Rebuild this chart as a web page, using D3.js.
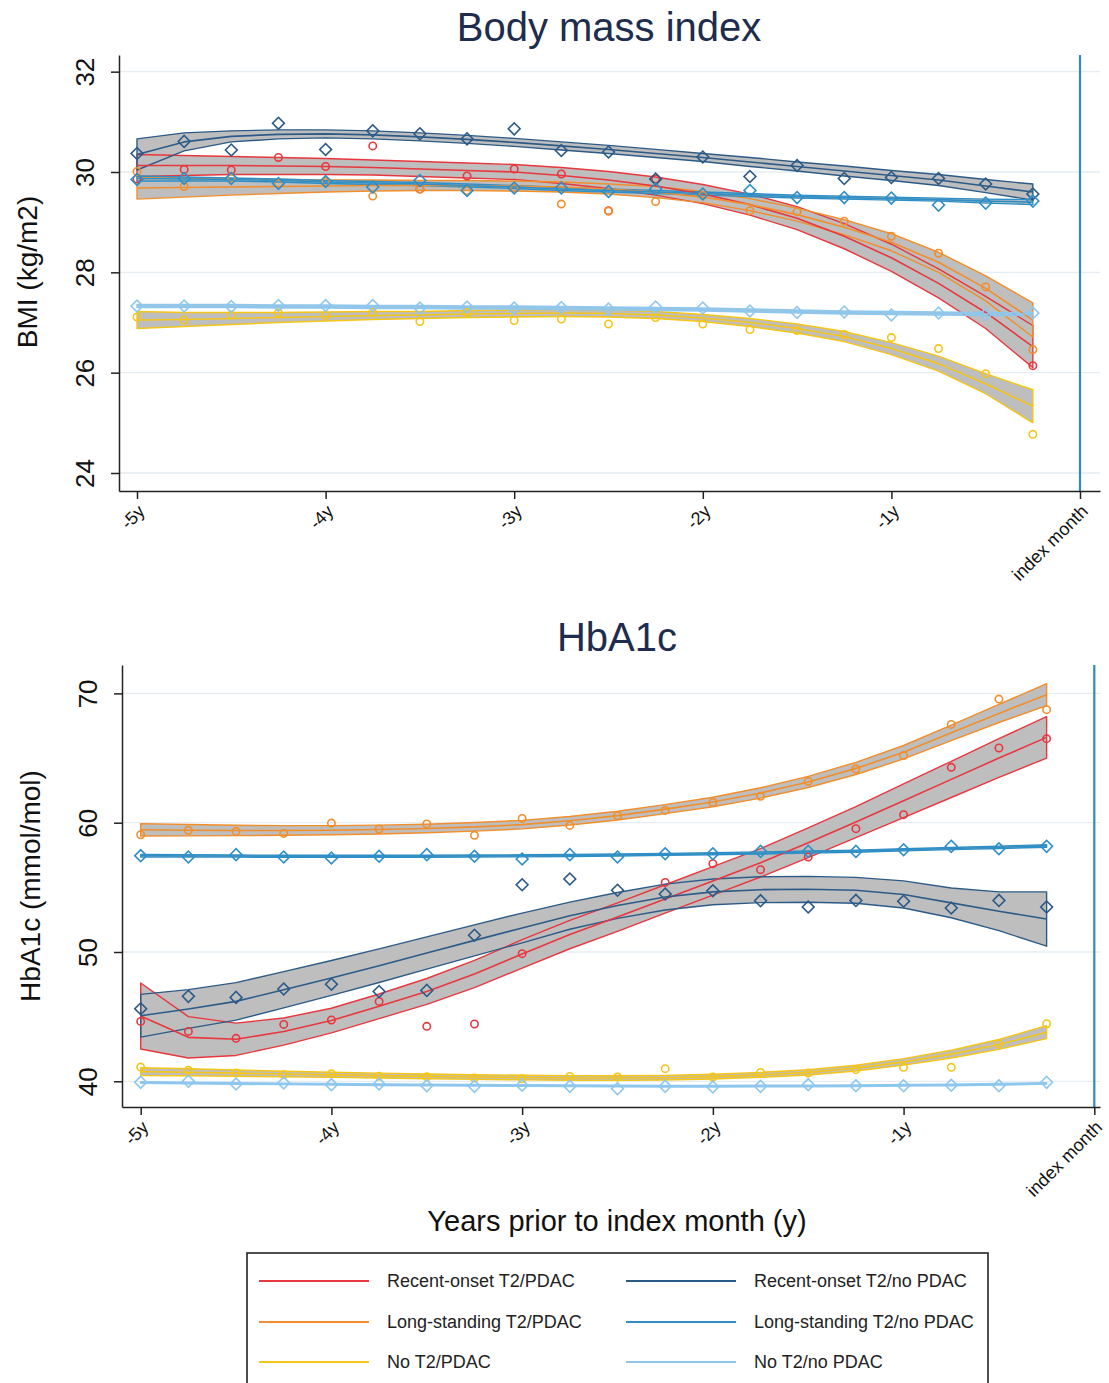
<!DOCTYPE html>
<html>
<head>
<meta charset="utf-8">
<script src="https://cdn.jsdelivr.net/npm/d3@7"></script>
<style>
  body { margin: 0; background: #fff; }
  svg { display: block; }
  text { font-family: "Liberation Sans", Arial, sans-serif; }
</style>
</head>
<body>
<svg id="chart" width="1109" height="1383"></svg>
<script>
// ---- data -------------------------------------------------------------
// Quarterly time points (years before the index month)
const years = [-5, -4.75, -4.5, -4.25, -4, -3.75, -3.5, -3.25, -3, -2.75,
               -2.5, -2.25, -2, -1.75, -1.5, -1.25, -1, -0.75, -0.5, -0.25];

// Groups, in legend order
const groups = [
  "Recent-onset T2/PDAC", "Recent-onset T2/no PDAC",
  "Long-standing T2/PDAC", "Long-standing T2/no PDAC",
  "No T2/PDAC", "No T2/no PDAC"
];

// BMI: observed quarterly means per group (null = no mean shown)
const bmiObserved = [
  [29.86, 30.05, 30.04, 30.29, 30.11, 30.52, 29.66, 29.92, 30.06, 29.96, 29.23, 29.86, null, null, null, null, null, null, null, 26.14],
  [30.37, 30.61, 30.44, 30.97, 30.45, 30.82, 30.76, 30.66, 30.86, 30.43, 30.40, 29.86, 30.30, 29.91, 30.13, 29.87, 29.89, 29.87, 29.76, 29.56],
  [30.01, 29.71, 29.87, 29.77, 29.81, 29.52, 29.66, 29.63, 29.68, 29.36, 29.22, 29.41, 29.54, 29.23, 29.21, 29.02, 28.72, 28.38, 27.71, 26.46],
  [29.85, 29.87, 29.87, 29.77, 29.81, 29.70, 29.83, 29.63, 29.68, 29.68, 29.61, 29.66, 29.56, 29.63, 29.49, 29.49, 29.48, 29.34, 29.38, 29.42],
  [27.11, 27.05, 27.15, 27.19, 27.14, 27.20, 27.02, 27.20, 27.04, 27.07, 26.97, 27.10, 26.97, 26.86, 26.84, 26.76, 26.70, 26.48, 25.98, 24.77],
  [27.33, 27.33, 27.32, 27.34, 27.34, 27.34, 27.29, 27.31, 27.29, 27.30, 27.27, 27.31, 27.29, 27.23, 27.20, 27.21, 27.15, 27.19, 27.16, 27.19]
];
// BMI: fitted trajectory per group
const bmiFitted = [
  [30.13, 30.13, 30.13, 30.12, 30.11, 30.09, 30.06, 30.03, 30.00, 29.93, 29.84, 29.72, 29.56, 29.35, 29.08, 28.72, 28.29, 27.78, 27.20, 26.52],
  [30.35, 30.60, 30.71, 30.75, 30.76, 30.74, 30.70, 30.65, 30.59, 30.52, 30.45, 30.37, 30.29, 30.20, 30.11, 30.02, 29.93, 29.84, 29.72, 29.60],
  [29.68, 29.69, 29.70, 29.71, 29.72, 29.73, 29.73, 29.73, 29.72, 29.70, 29.66, 29.60, 29.50, 29.35, 29.15, 28.90, 28.60, 28.20, 27.68, 27.05],
  [29.87, 29.86, 29.85, 29.83, 29.80, 29.78, 29.76, 29.73, 29.70, 29.66, 29.63, 29.60, 29.57, 29.54, 29.51, 29.49, 29.47, 29.45, 29.42, 29.40],
  [27.05, 27.06, 27.08, 27.10, 27.12, 27.14, 27.15, 27.17, 27.18, 27.19, 27.18, 27.15, 27.09, 27.00, 26.88, 26.72, 26.48, 26.18, 25.78, 25.33],
  [27.33, 27.33, 27.33, 27.32, 27.32, 27.31, 27.31, 27.30, 27.30, 27.29, 27.28, 27.27, 27.26, 27.24, 27.22, 27.20, 27.19, 27.18, 27.17, 27.17]
];
// BMI: half-width of the 95% confidence band
const bmiHalfWidth = [
  [0.22, 0.20, 0.18, 0.17, 0.16, 0.15, 0.15, 0.15, 0.15, 0.16, 0.17, 0.18, 0.19, 0.21, 0.23, 0.25, 0.27, 0.29, 0.32, 0.42],
  [0.31, 0.18, 0.11, 0.09, 0.08, 0.08, 0.08, 0.08, 0.08, 0.08, 0.08, 0.08, 0.08, 0.09, 0.09, 0.10, 0.10, 0.11, 0.13, 0.16],
  [0.22, 0.19, 0.16, 0.14, 0.12, 0.11, 0.10, 0.10, 0.10, 0.10, 0.10, 0.11, 0.11, 0.12, 0.13, 0.15, 0.17, 0.20, 0.25, 0.34],
  [0.05, 0.04, 0.03, 0.03, 0.03, 0.03, 0.03, 0.03, 0.03, 0.03, 0.03, 0.03, 0.03, 0.03, 0.03, 0.03, 0.03, 0.03, 0.04, 0.05],
  [0.17, 0.14, 0.12, 0.10, 0.09, 0.08, 0.07, 0.07, 0.07, 0.07, 0.07, 0.07, 0.07, 0.08, 0.09, 0.10, 0.12, 0.15, 0.20, 0.33],
  [0.03, 0.03, 0.03, 0.03, 0.03, 0.03, 0.03, 0.03, 0.03, 0.03, 0.03, 0.03, 0.03, 0.03, 0.03, 0.03, 0.03, 0.03, 0.03, 0.03]
];

// HbA1c: observed quarterly means per group (null = no mean shown)
const hbaObserved = [
  [44.63, 43.86, 43.32, 44.40, 44.74, 46.18, 44.25, 44.43, 49.87, null, null, 55.38, 56.83, 56.37, 57.35, 59.54, 60.62, 64.28, 65.78, 66.50],
  [45.61, 46.57, 46.49, 47.14, 47.50, 46.95, 47.03, 51.29, 55.20, 55.64, 54.77, 54.48, 54.74, 53.97, 53.48, 53.99, 53.92, 53.40, 53.99, 53.48],
  [59.07, 59.41, 59.33, 59.17, 59.97, 59.51, 59.90, 59.02, 60.33, 59.79, 60.54, 60.95, 61.57, 62.04, 63.20, 64.15, 65.20, 67.60, 69.56, 68.74],
  [57.45, 57.35, 57.53, 57.35, 57.27, 57.40, 57.53, 57.40, 57.19, 57.53, 57.35, 57.60, 57.60, 57.78, 57.78, 57.78, 57.91, 58.17, 57.99, 58.17],
  [41.10, 40.85, 40.64, 40.51, 40.59, 40.40, 40.35, 40.25, 40.20, 40.38, 40.33, 40.98, 40.33, 40.69, 40.64, 40.90, 41.08, 41.08, 42.89, 44.45],
  [39.92, 40.00, 39.79, 39.87, 39.74, 39.79, 39.66, 39.61, 39.69, 39.61, 39.43, 39.61, 39.56, 39.61, 39.74, 39.66, 39.66, 39.69, 39.66, 39.92]
];
// HbA1c: fitted trajectory per group
const hbaFitted = [
  [45.05, 43.40, 43.25, 43.85, 44.70, 45.80, 46.95, 48.30, 49.85, 51.35, 52.70, 54.10, 55.50, 56.90, 58.45, 60.05, 61.70, 63.35, 65.00, 66.60],
  [45.07, 45.59, 46.18, 47.08, 47.99, 48.94, 49.92, 50.90, 51.86, 52.81, 53.60, 54.25, 54.65, 54.82, 54.85, 54.77, 54.45, 53.80, 53.15, 52.55],
  [59.45, 59.42, 59.40, 59.40, 59.42, 59.47, 59.55, 59.68, 59.85, 60.15, 60.55, 61.05, 61.60, 62.30, 63.15, 64.20, 65.45, 66.95, 68.45, 69.90],
  [57.45, 57.43, 57.42, 57.40, 57.40, 57.40, 57.40, 57.42, 57.44, 57.47, 57.50, 57.55, 57.60, 57.66, 57.73, 57.80, 57.90, 58.00, 58.10, 58.20],
  [40.75, 40.70, 40.63, 40.56, 40.50, 40.44, 40.38, 40.33, 40.29, 40.26, 40.25, 40.28, 40.36, 40.50, 40.69, 41.02, 41.50, 42.10, 42.85, 43.80],
  [39.90, 39.87, 39.83, 39.80, 39.77, 39.74, 39.71, 39.69, 39.67, 39.65, 39.63, 39.62, 39.62, 39.63, 39.64, 39.66, 39.69, 39.72, 39.77, 39.84]
];
// HbA1c: half-width of the 95% confidence band
const hbaHalfWidth = [
  [2.55, 1.60, 1.25, 1.05, 0.95, 0.95, 1.00, 1.05, 1.10, 1.10, 1.10, 1.10, 1.10, 1.10, 1.15, 1.20, 1.30, 1.40, 1.50, 1.60],
  [1.65, 1.50, 1.45, 1.40, 1.35, 1.30, 1.25, 1.20, 1.15, 1.05, 1.00, 1.00, 1.00, 1.00, 1.00, 1.00, 1.05, 1.15, 1.50, 2.10],
  [0.48, 0.44, 0.40, 0.37, 0.35, 0.34, 0.33, 0.33, 0.33, 0.33, 0.34, 0.35, 0.37, 0.40, 0.43, 0.47, 0.52, 0.60, 0.70, 0.85],
  [0.10, 0.09, 0.08, 0.08, 0.08, 0.08, 0.08, 0.08, 0.08, 0.08, 0.08, 0.08, 0.08, 0.08, 0.08, 0.08, 0.08, 0.08, 0.09, 0.10],
  [0.30, 0.27, 0.24, 0.22, 0.20, 0.19, 0.18, 0.18, 0.18, 0.18, 0.18, 0.18, 0.18, 0.19, 0.20, 0.22, 0.25, 0.30, 0.38, 0.50],
  [0.06, 0.06, 0.06, 0.06, 0.06, 0.06, 0.06, 0.06, 0.06, 0.06, 0.06, 0.06, 0.06, 0.06, 0.06, 0.06, 0.06, 0.06, 0.06, 0.06]
];

// Axis ticks
const yearTicks = [-5, -4, -3, -2, -1, 0];
const yearTickLabels = ["-5y", "-4y", "-3y", "-2y", "-1y", "index month"];
const bmiTicks = [24, 26, 28, 30, 32];
const hbaTicks = [40, 50, 60, 70];

// ---- styling ----------------------------------------------------------
const groupColors = ["#e8373e", "#2d5b88", "#f28e2b", "#2f8fc6", "#f5c518", "#8ec7ee"];
const groupMarkers = ["circle", "diamond", "circle", "diamond", "circle", "diamond"];
const bandFill = "#bebebe";
const gridColor = "#e5edf2";
const titleColor = "#1e2c4e";
const axisColor = "#222";

const svg = d3.select("#chart");

const panels = [
  {
    title: "Body mass index", titleX: 609, titleY: 41,
    yTitle: "BMI (kg/m2)", yTitleX: 37, yTitleY: 272,
    observed: bmiObserved, fitted: bmiFitted, half: bmiHalfWidth,
    yTicks: bmiTicks, yDomain: [24, 30], yRange: [473, 172],
    xRange: [137, 1080],
    left: 119, right: 1100, top: 55, bottom: 491
  },
  {
    title: "HbA1c", titleX: 617, titleY: 651,
    yTitle: "HbA1c (mmol/mol)", yTitleX: 40, yTitleY: 886,
    observed: hbaObserved, fitted: hbaFitted, half: hbaHalfWidth,
    yTicks: hbaTicks, yDomain: [40, 70], yRange: [1081.3, 693.4],
    xRange: [140.7, 1094.3],
    left: 122, right: 1100, top: 665, bottom: 1107
  }
];

function drawPanel(p) {
  const g = svg.append("g");
  const xBase = d3.scaleLinear().domain([-5, 0]).range(p.xRange);
  const yBase = d3.scaleLinear().domain(p.yDomain).range(p.yRange);
  // scales stretched over the full plot region so the axis lines span it
  const x = xBase.copy().domain([xBase.invert(p.left), xBase.invert(p.right)]).range([p.left, p.right]);
  const y = yBase.copy().domain([yBase.invert(p.bottom), yBase.invert(p.top)]).range([p.bottom, p.top]);

  // horizontal grid
  g.append("g").selectAll("line").data(p.yTicks).join("line")
    .attr("x1", p.left).attr("x2", p.right)
    .attr("y1", d => y(d)).attr("y2", d => y(d))
    .attr("stroke", gridColor).attr("stroke-width", 1.3);

  const series = groups.map((name, i) => ({
    name, i,
    pts: years.map((t, k) => ({
      t, obs: p.observed[i][k], fit: p.fitted[i][k], hw: p.half[i][k]
    }))
  }));

  const area = d3.area().x(d => x(d.t)).y0(d => y(d.fit - d.hw)).y1(d => y(d.fit + d.hw));
  const line = d3.line().x(d => x(d.t)).y(d => y(d.fit));

  // confidence band fills
  g.append("g").selectAll("path").data(series).join("path")
    .attr("d", s => area(s.pts))
    .attr("fill", bandFill).attr("stroke", "none");
  // band outlines
  g.append("g").selectAll("path").data(series).join("path")
    .attr("d", s => area(s.pts))
    .attr("fill", "none")
    .attr("stroke", s => groupColors[s.i]).attr("stroke-width", 1.4)
    .attr("stroke-linejoin", "round");
  // fitted lines
  g.append("g").selectAll("path").data(series).join("path")
    .attr("d", s => line(s.pts))
    .attr("fill", "none")
    .attr("stroke", s => groupColors[s.i]).attr("stroke-width", 1.6)
    .attr("stroke-linejoin", "round");

  // observed markers
  const diamond = d3.symbol().type(d3.symbolSquare).size(70)();
  const markers = g.append("g");
  series.forEach(s => {
    const shown = s.pts.filter(d => d.obs !== null);
    const mg = markers.append("g");
    if (groupMarkers[s.i] === "circle") {
      mg.selectAll("circle").data(shown).join("circle")
        .attr("cx", d => x(d.t)).attr("cy", d => y(d.obs)).attr("r", 3.7)
        .attr("fill", "none").attr("stroke", groupColors[s.i]).attr("stroke-width", 1.6);
    } else {
      mg.selectAll("path").data(shown).join("path")
        .attr("d", diamond)
        .attr("transform", d => `translate(${x(d.t)},${y(d.obs)}) rotate(45)`)
        .attr("fill", "none").attr("stroke", groupColors[s.i]).attr("stroke-width", 1.6);
    }
  });

  // index month reference line
  g.append("line")
    .attr("x1", x(0)).attr("x2", x(0)).attr("y1", p.top).attr("y2", p.bottom)
    .attr("stroke", "#2f8ac0").attr("stroke-width", 2.2);

  // y axis
  const yAxis = g.append("g")
    .attr("transform", `translate(${p.left},0)`)
    .call(d3.axisLeft(y).tickValues(p.yTicks).tickSize(8).tickSizeOuter(0).tickFormat(d3.format("d")));
  yAxis.select(".domain").attr("stroke", axisColor).attr("stroke-width", 1.5);
  yAxis.selectAll(".tick line").attr("stroke", axisColor).attr("stroke-width", 1.5);
  yAxis.selectAll(".tick text")
    .attr("x", 0).attr("dy", 0)
    .attr("transform", "translate(-25,0) rotate(-90)")
    .style("text-anchor", "middle")
    .attr("fill", "#111").style("font-size", "26px");

  // x axis
  const xAxis = g.append("g")
    .attr("transform", `translate(0,${p.bottom})`)
    .call(d3.axisBottom(x).tickValues(yearTicks).tickSize(8).tickSizeOuter(0)
      .tickFormat((d, i) => yearTickLabels[i]));
  xAxis.select(".domain").attr("stroke", axisColor).attr("stroke-width", 1.5);
  xAxis.selectAll(".tick line").attr("stroke", axisColor).attr("stroke-width", 1.5);
  xAxis.selectAll(".tick text")
    .attr("x", 0).attr("y", 0).attr("dy", "0.35em")
    .attr("transform", "translate(4,17) rotate(-45)")
    .style("text-anchor", "end")
    .attr("fill", "#111").style("font-size", "18px");

  // titles
  g.append("text")
    .attr("x", p.titleX).attr("y", p.titleY)
    .attr("text-anchor", "middle")
    .attr("fill", titleColor).style("font-size", "40px")
    .text(p.title);
  g.append("text")
    .attr("transform", `translate(${p.yTitleX},${p.yTitleY}) rotate(-90)`)
    .attr("text-anchor", "middle")
    .attr("fill", "#111").style("font-size", "28px")
    .text(p.yTitle);
}

panels.forEach(drawPanel);

// shared x-axis title
svg.append("text")
  .attr("x", 617).attr("y", 1231)
  .attr("text-anchor", "middle")
  .attr("fill", "#111").style("font-size", "29px")
  .text("Years prior to index month (y)");

// legend
const legend = svg.append("g");
legend.append("rect")
  .attr("x", 247).attr("y", 1253).attr("width", 741).attr("height", 160)
  .attr("fill", "#fff").attr("stroke", "#222").attr("stroke-width", 1.6);
const legendRowY = [1281, 1322, 1362];
const legendColX = [259, 626];
const entries = legend.selectAll("g.entry").data(groups).join("g")
  .attr("class", "entry")
  .attr("transform", (d, i) => `translate(${legendColX[i % 2]},${legendRowY[Math.floor(i / 2)]})`);
entries.append("line")
  .attr("x1", 0).attr("x2", 110).attr("y1", 0).attr("y2", 0)
  .attr("stroke", (d, i) => groupColors[i]).attr("stroke-width", 2);
entries.append("text")
  .attr("x", 128).attr("y", 0).attr("dy", "0.35em")
  .attr("fill", "#222").style("font-size", "18px")
  .text(d => d);
</script>
</body>
</html>
